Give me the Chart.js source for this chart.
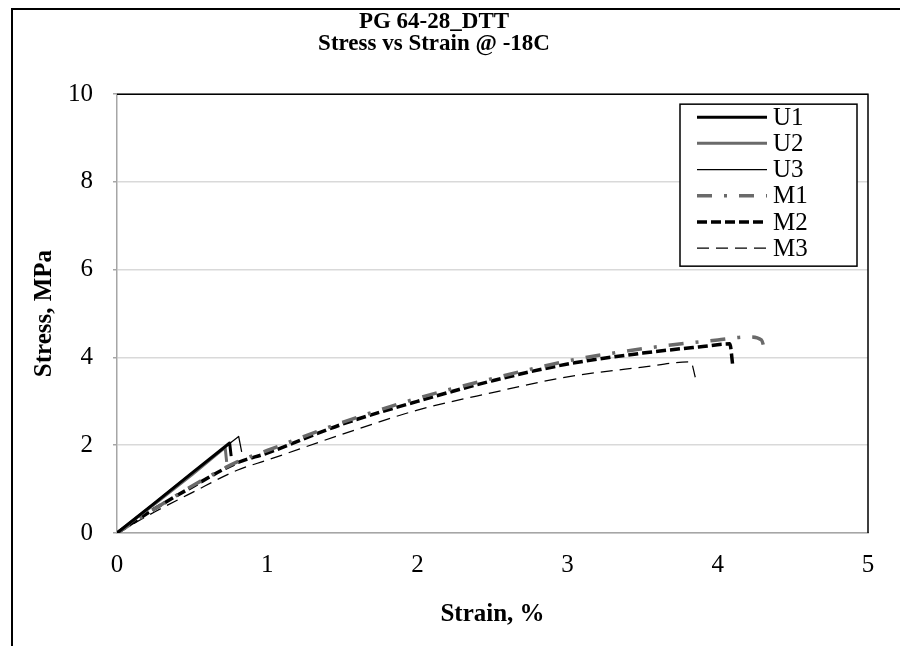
<!DOCTYPE html>
<html><head><meta charset="utf-8">
<script src="https://cdn.jsdelivr.net/npm/chart.js@4.4.1/dist/chart.umd.min.js"></script>
<style>html,body{margin:0;padding:0;background:#fff;}#wrap{width:900px;height:646px;position:relative;}</style>
</head><body><div id="wrap"><canvas id="c" width="900" height="646"></canvas></div>
<script>
const titleLines = ['PG 64-28_DTT', 'Stress vs Strain @ -18C'];
const xTitle = 'Strain, %';
const yTitle = 'Stress, MPa';
const seriesNames = ['U1', 'U2', 'U3', 'M1', 'M2', 'M3'];

const U1_strain = [0, 0.25, 0.5, 0.75, 0.76];
const U1_stress = [0, 0.68, 1.37, 2.05, 1.75];
const U2_strain = [0, 0.25, 0.5, 0.72, 0.73];
const U2_stress = [0, 0.66, 1.33, 1.95, 1.62];
const U3_strain = [0, 0.25, 0.5, 0.81, 0.83];
const U3_stress = [0, 0.69, 1.38, 2.2, 1.85];

const M1_strain = [0, 0.25, 0.5, 0.8, 1.0, 1.5, 2.0, 2.5, 3.0, 3.5, 4.0, 4.21, 4.29, 4.32];
const M1_stress = [0, 0.55, 1.07, 1.62, 1.88, 2.52, 3.07, 3.52, 3.92, 4.2, 4.4, 4.47, 4.4, 4.05];
const M2_strain = [0, 0.25, 0.5, 0.8, 1.0, 1.5, 2.0, 2.5, 3.0, 3.5, 3.9, 4.08, 4.1];
const M2_stress = [0, 0.55, 1.05, 1.6, 1.82, 2.48, 3.0, 3.47, 3.85, 4.1, 4.25, 4.31, 3.8];
const M3_strain = [0, 0.25, 0.5, 0.8, 1.0, 1.5, 2.0, 2.5, 3.0, 3.5, 3.82, 3.85];
const M3_stress = [0, 0.48, 0.92, 1.43, 1.66, 2.25, 2.8, 3.2, 3.56, 3.78, 3.9, 3.55];

const xTicks = [0, 1, 2, 3, 4, 5];
const yTicks = [0, 2, 4, 6, 8, 10];

const FONT = "'Liberation Serif', 'Times New Roman', serif";
const GRAY = '#6a6a6a';

function pts(xs, ys) { return xs.map((x, i) => ({x: x, y: ys[i]})); }

const styles = [
  {borderColor: '#000', borderWidth: 3, borderDash: [], tension: 0},
  {borderColor: GRAY, borderWidth: 3, borderDash: [], tension: 0},
  {borderColor: '#000', borderWidth: 1.25, borderDash: [], tension: 0},
  {borderColor: GRAY, borderWidth: 3.5, borderDash: [15, 12, 3, 12], cubicInterpolationMode: 'monotone'},
  {borderColor: '#000', borderWidth: 3.5, borderDash: [10, 4], cubicInterpolationMode: 'monotone'},
  {borderColor: '#000', borderWidth: 1.25, borderDash: [12, 7], cubicInterpolationMode: 'monotone'}
];
const dataPairs = [
  [U1_strain, U1_stress], [U2_strain, U2_stress], [U3_strain, U3_stress],
  [M1_strain, M1_stress], [M2_strain, M2_stress], [M3_strain, M3_stress]
];

const datasets = seriesNames.map((name, i) => Object.assign({
  label: name,
  data: pts(dataPairs[i][0], dataPairs[i][1]),
  showLine: true,
  pointRadius: 0,
  pointHoverRadius: 0,
  fill: false,
  borderCapStyle: 'butt',
  borderJoinStyle: 'round'
}, styles[i]));

const framePlugin = {
  id: 'frame',
  beforeDraw(chart) {
    const ctx = chart.ctx;
    ctx.save();
    ctx.fillStyle = '#fff';
    ctx.fillRect(0, 0, chart.width, chart.height);
    ctx.strokeStyle = '#000';
    ctx.lineWidth = 2;
    ctx.beginPath();
    ctx.moveTo(12, chart.height);
    ctx.lineTo(12, 9);
    ctx.lineTo(chart.width, 9);
    ctx.stroke();
    ctx.restore();
  },
  beforeDatasetsDraw(chart) {
    const a = chart.chartArea;
    const ctx = chart.ctx;
    ctx.save();
    ctx.strokeStyle = '#000';
    ctx.lineWidth = 1.5;
    ctx.beginPath();
    ctx.moveTo(a.left, a.top);
    ctx.lineTo(a.right, a.top);
    ctx.lineTo(a.right, a.bottom);
    ctx.stroke();
    ctx.restore();
  },
  afterDatasetsDraw(chart) {
    const ctx = chart.ctx;
    const a = chart.chartArea;
    const bx = a.right - 188, by = a.top + 10, bw = 177, bh = 162;
    ctx.save();
    ctx.fillStyle = '#fff';
    ctx.fillRect(bx, by, bw, bh);
    ctx.strokeStyle = '#000';
    ctx.lineWidth = 1.5;
    ctx.strokeRect(bx, by, bw, bh);
    ctx.font = '25px ' + FONT;
    ctx.textBaseline = 'middle';
    ctx.textAlign = 'left';
    chart.data.datasets.forEach((ds, i) => {
      const y = by + 13 + i * 26.2;
      ctx.save();
      ctx.strokeStyle = ds.borderColor;
      ctx.lineWidth = ds.borderWidth;
      ctx.setLineDash(ds.borderDash || []);
      ctx.lineCap = 'butt';
      ctx.beginPath();
      ctx.moveTo(bx + 17, y);
      ctx.lineTo(bx + 87, y);
      ctx.stroke();
      ctx.restore();
      ctx.fillStyle = '#000';
      ctx.fillText(ds.label, bx + 93, y + 1);
    });
    ctx.restore();
  }
};

new Chart(document.getElementById('c'), {
  type: 'scatter',
  data: {datasets: datasets},
  options: {
    responsive: false,
    animation: false,
    events: [],
    layout: {padding: {left: 0, right: 32, top: 0, bottom: 0}},
    plugins: {
      legend: {display: false},
      tooltip: {enabled: false},
      title: {
        display: true,
        text: titleLines,
        color: '#000',
        font: {family: FONT, size: 23, weight: 'bold', lineHeight: 0.96},
        padding: {top: 11, bottom: 39}
      }
    },
    scales: {
      x: {
        type: 'linear', min: 0, max: 5,
        afterFit(s) { s.height = 113; },
        afterBuildTicks(s) { s.ticks = xTicks.map(v => ({value: v})); },
        grid: {display: false, drawTicks: false},
        border: {display: true, color: '#a6a6a6', width: 1.5},
        ticks: {color: '#000', font: {family: FONT, size: 25}, padding: 17, maxRotation: 0},
        title: {display: true, text: xTitle, color: '#000', font: {family: FONT, size: 25, weight: 'bold', lineHeight: 1.2}, padding: {top: 0, bottom: 16}}
      },
      y: {
        type: 'linear', min: 0, max: 10,
        afterFit(s) { s.width = 117; },
        afterBuildTicks(s) { s.ticks = yTicks.map(v => ({value: v})); },
        grid: {color: '#d9d9d9', lineWidth: 1.5, tickLength: 4, tickColor: '#a6a6a6'},
        border: {display: true, color: '#a6a6a6', width: 1.5},
        ticks: {color: '#000', font: {family: FONT, size: 25}, padding: 20},
        title: {display: true, text: yTitle, color: '#000', font: {family: FONT, size: 25, weight: 'bold', lineHeight: 1.2}, padding: {top: 30, bottom: 0}}
      }
    }
  },
  plugins: [framePlugin]
});
</script>
</body></html>
